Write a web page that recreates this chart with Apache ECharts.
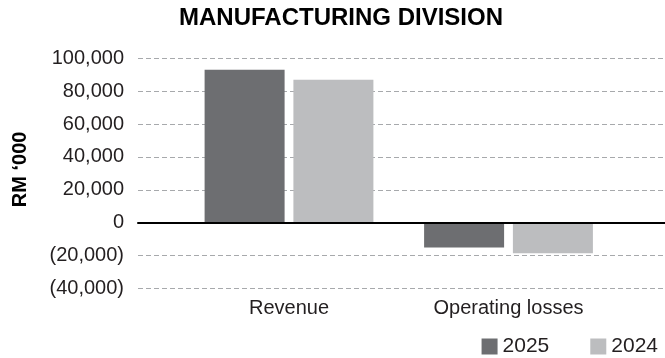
<!DOCTYPE html>
<html>
<head>
<meta charset="utf-8">
<script src="https://cdn.jsdelivr.net/npm/echarts@6/dist/echarts.min.js"></script>
<style>
  html, body { margin: 0; padding: 0; background: #fff; }
  #chart { width: 665px; height: 358px; }
</style>
</head>
<body>
<div id="chart"></div>
<script>
// Manufacturing division results, RM '000
const categories = ['Revenue', 'Operating losses'];
const seriesNames = ['2025', '2024'];
const values2025 = [93000, -15000];
const values2024 = [87000, -18500];
const yMin = -40000;
const yMax = 100000;
const yStep = 20000;

const FONT = 'Liberation Sans, Arial, Helvetica, sans-serif';
const TEXT = '#231f20';
const DARK = '#6d6e71';
const LIGHT = '#bcbdbf';

// Thousands with parentheses for negatives
function fmt(v) {
  const s = Math.abs(v).toLocaleString('en-US');
  return v < 0 ? '(' + s + ')' : s;
}

const plotTop = 58.3, plotBottom = 358 - 288.5;

const chart = echarts.init(document.getElementById('chart'), null, { renderer: 'canvas' });
chart.setOption({
  backgroundColor: '#fff',
  animation: false,
  title: {
    text: 'MANUFACTURING DIVISION',
    left: 174,
    top: 1,
    textStyle: { fontFamily: FONT, fontWeight: 'bold', fontSize: 24, color: '#000' }
  },
  legend: {
    data: seriesNames,
    right: 2,
    top: 331,
    icon: 'rect',
    itemWidth: 16,
    itemHeight: 16,
    itemGap: 41,
    textStyle: { fontFamily: FONT, fontSize: 21, color: TEXT }
  },
  grid: [
    // wide grid: gridlines, zero line and value labels
    { left: 138, right: 0, top: plotTop, bottom: plotBottom },
    // bar grid
    { left: 179.25, right: 46.75, top: plotTop, bottom: plotBottom }
  ],
  xAxis: [
    {
      gridIndex: 0, type: 'value', min: 0, max: 1,
      axisLabel: { show: false }, axisTick: { show: false }, splitLine: { show: false },
      axisLine: { show: true, onZero: true, lineStyle: { color: '#000', width: 2 } },
      z: 5
    },
    {
      gridIndex: 1, type: 'category', data: categories,
      axisLine: { show: false }, axisTick: { show: false },
      axisLabel: { fontFamily: FONT, fontSize: 20, color: TEXT, margin: 10 }
    }
  ],
  yAxis: [
    {
      gridIndex: 0, type: 'value', min: yMin, max: yMax, interval: yStep,
      name: 'RM \u2018000',
      nameLocation: 'middle',
      nameGap: 108,
      nameTextStyle: { fontFamily: FONT, fontSize: 20, fontWeight: 'bold', color: '#000', padding: [0, 0, 0, 8] },
      axisLine: { show: false }, axisTick: { show: false },
      axisLabel: { fontFamily: FONT, fontSize: 20, color: TEXT, margin: 14, formatter: fmt },
      splitLine: { show: true, lineStyle: { color: '#a7a9ac', width: 1, type: [5, 3] } }
    },
    {
      gridIndex: 1, type: 'value', min: yMin, max: yMax, interval: yStep,
      axisLine: { show: false }, axisTick: { show: false },
      axisLabel: { show: false }, splitLine: { show: false }
    }
  ],
  series: [
    {
      name: seriesNames[0], type: 'bar', xAxisIndex: 1, yAxisIndex: 1,
      data: values2025, barWidth: 80, barGap: '11%',
      itemStyle: { color: DARK }
    },
    {
      name: seriesNames[1], type: 'bar', xAxisIndex: 1, yAxisIndex: 1,
      data: values2024, barWidth: 80,
      itemStyle: { color: LIGHT }
    }
  ]
});
</script>
</body>
</html>
